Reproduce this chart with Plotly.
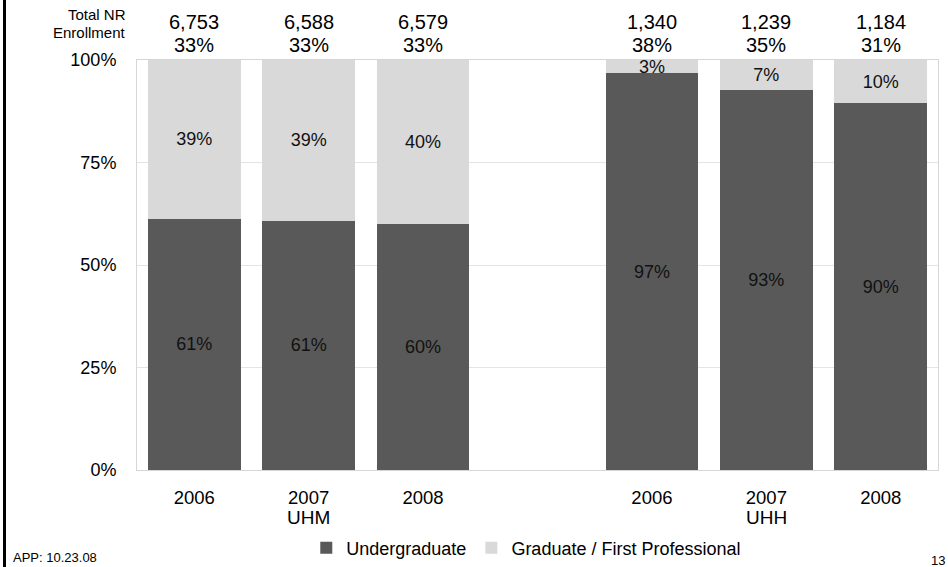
import plotly.graph_objects as go

positions = [0, 1, 2, 4, 5, 6]
years = ["2006", "2007", "2008", "2006", "2007", "2008"]
undergrad = [61.3, 60.8, 59.9, 96.8, 92.7, 89.5]
graduate = [38.7, 39.2, 40.1, 3.2, 7.3, 10.5]
ug_labels = ["61%", "61%", "60%", "97%", "93%", "90%"]
gr_labels = ["39%", "39%", "40%", "3%", "7%", "10%"]
totals = ["6,753", "6,588", "6,579", "1,340", "1,239", "1,184"]
nr_pct = ["33%", "33%", "33%", "38%", "35%", "31%"]
groups = ["UHM", "UHH"]
group_pos = [1, 5]
yticks = [0, 25, 50, 75, 100]
ytick_text = ["0%", "25%", "50%", "75%", "100%"]

FONT = "Liberation Sans, Arial, sans-serif"
PW, PH = 801, 410  # plot area size in px (for paper-relative decorations)

fig = go.Figure()
fig.add_trace(go.Bar(
    x=positions, y=undergrad, name="Undergraduate",
    marker=dict(color="#595959", line=dict(width=0)),
    text=ug_labels, textposition="inside", insidetextanchor="middle",
    textfont=dict(color="#111111", size=18, family=FONT),
    constraintext="none", width=0.81, hoverinfo="skip",
))
fig.add_trace(go.Bar(
    x=positions, y=graduate, name="Graduate / First Professional",
    marker=dict(color="#d9d9d9", line=dict(width=0)),
    text=gr_labels, textposition="inside", insidetextanchor="middle",
    textfont=dict(color="#111111", size=18, family=FONT),
    constraintext="none", width=0.81, hoverinfo="skip",
))

annotations = []
for p, t, pc in zip(positions, totals, nr_pct):
    annotations.append(dict(x=p, y=100, xref="x", yref="y", text=t,
                            showarrow=False, yanchor="middle", yshift=38,
                            font=dict(size=20, family=FONT, color="black")))
    annotations.append(dict(x=p, y=100, xref="x", yref="y", text=pc,
                            showarrow=False, yanchor="middle", yshift=15,
                            font=dict(size=20, family=FONT, color="black")))
for g, gp in zip(groups, group_pos):
    annotations.append(dict(x=gp, y=0, xref="x", yref="y", text=g, showarrow=False,
                            yanchor="middle", yshift=-47,
                            font=dict(size=19, family=FONT, color="black")))
annotations.append(dict(x=-9 / PW, y=1 + 45 / PH, xref="paper", yref="paper",
                        text="Total NR", showarrow=False,
                        xanchor="right", yanchor="middle", align="right",
                        font=dict(size=15, family=FONT, color="black")))
annotations.append(dict(x=-9 / PW, y=1 + 27 / PH, xref="paper", yref="paper",
                        text="Enrollment", showarrow=False,
                        xanchor="right", yanchor="middle", align="right",
                        font=dict(size=15, family=FONT, color="black")))
annotations.append(dict(x=-126 / PW, y=-87 / PH, xref="paper", yref="paper",
                        text="APP: 10.23.08", showarrow=False,
                        xanchor="left", yanchor="middle",
                        font=dict(size=13, family=FONT, color="black")))
annotations.append(dict(x=1 - 9 / PW, y=-90 / PH, xref="paper", yref="paper",
                        text="13", showarrow=False,
                        xanchor="left", yanchor="middle",
                        font=dict(size=13, family=FONT, color="black")))

fig.update_layout(
    barmode="stack",
    width=948, height=567,
    margin=dict(l=137, r=10, t=60, b=97, autoexpand=False),
    paper_bgcolor="white", plot_bgcolor="white",
    font=dict(family=FONT, color="black"),
    showlegend=True,
    legend=dict(orientation="h", x=0.486, xanchor="center", y=-78 / PH, yanchor
                ="middle", font=dict(size=18, family=FONT), traceorder="normal",
                tracegroupgap=0),
    annotations=annotations,
    shapes=[dict(type="line", xref="paper", yref="paper",
                 x0=-132.5 / PW, x1=-132.5 / PW, y0=-97 / PH, y1=1 + 60 / PH,
                 line=dict(color="black", width=3))],
    bargap=0.19,
    hovermode=False,
)
fig.update_xaxes(range=[-0.5, 6.5], tickvals=positions, ticktext=years,
                 tickfont=dict(size=18.5, family=FONT), showgrid=False,
                 showline=True, linecolor="#d6d6d6", linewidth=1, mirror=True,
                 ticks="", ticklabelstandoff=11, fixedrange=True)
fig.update_yaxes(range=[0, 100], tickvals=yticks, ticktext=ytick_text,
                 tickfont=dict(size=18, family=FONT), showgrid=True,
                 gridcolor="#e4e4e4", gridwidth=1,
                 showline=True, linecolor="#d6d6d6", linewidth=1, mirror=True,
                 ticks="", ticklabelstandoff=16, zeroline=False, fixedrange=True)

fig.write_html("out.html",
               config={"displayModeBar": False},
               post_script="document.body.style.margin='0px';document.body.style.overflow='hidden';")
